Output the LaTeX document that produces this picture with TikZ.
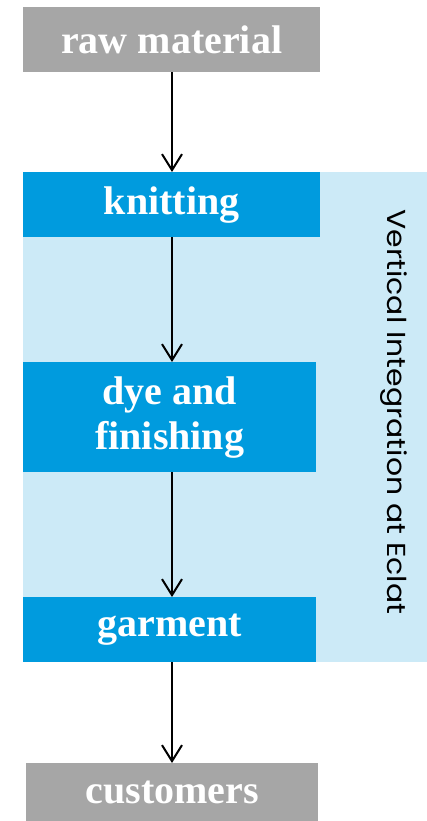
\documentclass[tikz,border=0pt]{standalone}
\usepackage{fontspec}
\usetikzlibrary{arrows.meta}
\setmainfont{Liberation Serif}
\newfontfamily\sidefont{Poppins}
\definecolor{boxgray}{HTML}{A6A6A6}
\definecolor{boxblue}{HTML}{009BDE}
\definecolor{lightblue}{HTML}{CCEAF7}
\begin{document}
\begin{tikzpicture}[x=1pt,y=-1pt,
  stepbox/.style={anchor=north west,inner sep=0pt,text=white,font=\bfseries\fontsize{40}{45}\selectfont,align=center},
  arr/.style={->,>={Straight Barb[length=16pt,width=20pt,line width=2pt]},line width=2pt}]
\useasboundingbox (0,0) rectangle (427,821);
\fill[lightblue] (23,172) rectangle (427,662);
\node[stepbox,fill=boxgray,minimum width=297pt,minimum height=65pt] (raw) at (23,7) {raw material};
\node[stepbox,fill=boxblue,minimum width=297pt,minimum height=65pt] (knit) at (23,172) {knitting};
\node[stepbox,fill=boxblue,minimum width=293pt,minimum height=110pt] (dye) at (23,362) {dye and\\finishing};
\node[stepbox,fill=boxblue,minimum width=293pt,minimum height=65pt] (garm) at (23,597) {garment};
\node[stepbox,fill=boxgray,minimum width=292pt,minimum height=58pt] (cust) at (26,763) {customers};
\coordinate (ax) at (172,0);
\draw[arr] (raw.south -| ax) -- (knit.north -| ax);
\draw[arr] (knit.south -| ax) -- (dye.north -| ax);
\draw[arr] (dye.south -| ax) -- (garm.north -| ax);
\draw[arr] (garm.south -| ax) -- (cust.north -| ax);
\node[rotate=-90,font=\sidefont\fontsize{26}{28}\selectfont,inner sep=0pt] (vi) at (394,412) {\scalebox{1.15}[1]{Vertical Integration at Eclat}};
\end{tikzpicture}
\end{document}
